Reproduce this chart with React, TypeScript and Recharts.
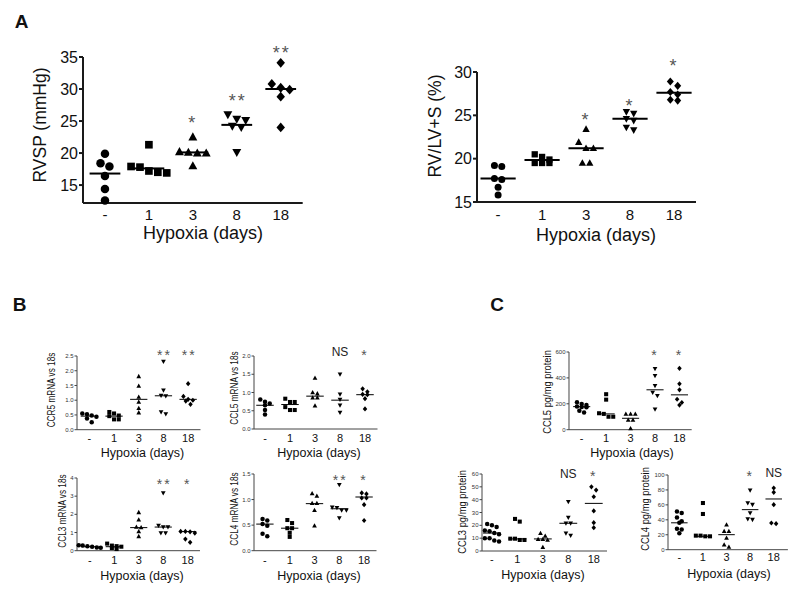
import React from "react";
import { ScatterChart, Scatter, XAxis, YAxis, ReferenceLine, ReferenceDot } from "recharts";

const groupLabels = ["-", "1", "3", "8", "18"];
const groupShapes = ["circle", "square", "triangle", "triangleDown", "diamond"];

// A: RVSP (mmHg)
const rvspValues = [
  [19.9, 18.4, 17.9, 16.4, 14.4, 12.6],
  [21.3, 17.9, 17.8, 17.2, 17.0, 16.9],
  [22.5, 20.2, 20.1, 20.0, 20.0, 18.0],
  [26.0, 25.3, 25.1, 24.2, 24.0, 20.1],
  [34.1, 30.8, 30.2, 29.9, 28.8, 24.0],
];
const rvspLines = [16.8, 17.6, 20.1, 24.4, 30.0];
const rvspStars = ["", "", "*", "**", "**"];
const rvspStarAt = [0, 0, 25.5, 28.8, 36.4];

// A: RV/LV+S (%)
const rvlvValues = [
  [19.2, 19.1, 17.7, 17.6, 16.7, 15.8],
  [20.5, 20.2, 19.9, 19.5, 19.5, 19.5],
  [23.4, 21.9, 21.2, 21.2, 19.5, 19.5],
  [25.4, 25.2, 24.6, 24.4, 23.6, 23.3],
  [28.9, 28.4, 27.7, 27.4, 26.8, 26.7],
];
const rvlvLines = [17.7, 19.85, 21.2, 24.6, 27.6];
const rvlvStars = ["", "", "*", "*", "*"];
const rvlvStarAt = [0, 0, 25.0, 26.6, 31.3];

// B: mRNA vs 18s
const ccr5Values = [
  [0.55, 0.52, 0.48, 0.44, 0.38, 0.25],
  [0.6, 0.55, 0.48, 0.46, 0.35, 0.35],
  [1.81, 1.48, 1.11, 0.94, 0.73, 0.58],
  [2.31, 1.34, 1.16, 1.14, 0.6, 0.53],
  [1.56, 1.13, 1.03, 1.0, 0.97, 0.86],
];
const ccr5Lines = [0.46, 0.46, 1.03, 1.15, 1.03];
const ccr5Stars = ["", "", "", "**", "**"];
const ccr5StarAt = [0, 0, 0, 2.66, 2.66];

const ccl5mValues = [
  [0.81, 0.75, 0.7, 0.65, 0.52, 0.4],
  [0.83, 0.74, 0.74, 0.6, 0.52, 0.52],
  [1.4, 1.0, 0.97, 0.86, 0.86, 0.64],
  [1.5, 0.95, 0.81, 0.65, 0.45],
  [1.1, 1.02, 0.95, 0.94, 0.83, 0.55],
];
const ccl5mLines = [0.65, 0.67, 0.9, 0.79, 0.94];
const ccl5mStars = ["", "", "", "NS", "*"];
const ccl5mStarAt = [0, 0, 0, 2.13, 2.13];

const ccl3mValues = [
  [0.3, 0.28, 0.25, 0.22, 0.18, 0.16],
  [0.39, 0.28, 0.25, 0.22, 0.15, 0.09],
  [2.11, 1.71, 1.3, 1.28, 1.06, 0.79],
  [3.17, 1.38, 1.3, 1.3, 0.97, 0.97],
  [1.06, 1.06, 1.04, 0.97, 0.64, 0.46],
];
const ccl3mLines = [0.22, 0.22, 1.27, 1.3, 1.05];
const ccl3mStars = ["", "", "", "**", "*"];
const ccl3mStarAt = [0, 0, 0, 3.87, 3.87];

const ccl4mValues = [
  [0.62, 0.59, 0.52, 0.49, 0.33, 0.28],
  [0.6, 0.54, 0.44, 0.44, 0.35, 0.27],
  [1.12, 1.07, 0.93, 0.93, 0.79, 0.49],
  [1.29, 0.85, 0.84, 0.79, 0.79, 0.64],
  [1.13, 1.11, 1.03, 1.03, 0.9, 0.59],
];
const ccl4mLines = [0.52, 0.44, 0.92, 0.82, 1.05];
const ccl4mStars = ["", "", "", "**", "*"];
const ccl4mStarAt = [0, 0, 0, 1.44, 1.44];

// C: pg/mg protein
const ccl5pValues = [
  [212, 199, 191, 180, 175, 173, 147, 132],
  [274, 232, 127, 122, 100, 100],
  [122, 122, 122, 75, 75, 10],
  [471, 416, 339, 287, 261, 158],
  [474, 354, 308, 235, 210, 190],
];
const ccl5pLines = [178, 122, 88, 308, 269];
const ccl5pStars = ["", "", "", "*", "*"];
const ccl5pStarAt = [0, 0, 0, 600, 600];

const ccl3pValues = [
  [21, 20, 18.7, 16, 15.3, 14, 13, 10, 10, 8.2, 7.4],
  [25, 22.9, 9.6, 9.6, 8.6, 8.6],
  [13.8, 11.7, 9.1, 9.1, 8.6, 2.9],
  [38.4, 26, 21.6, 21.6, 13.8, 12],
  [50, 47.5, 42.3, 31.2, 22.1, 18.2],
];
const ccl3pLines = [14, 9.4, 9.4, 21.6, 37.1];
const ccl3pStars = ["", "", "", "NS", "*"];
const ccl3pStarAt = [0, 0, 0, 60.5, 61.3];

const ccl4pValues = [
  [51, 49, 43, 38, 36, 28, 27, 22],
  [62.5, 47.8, 18.8, 18.8, 17.9, 17.9],
  [33.5, 24.6, 24.6, 15.6, 6.7, 3.6],
  [79.5, 62.5, 60.3, 49.1, 41.1, 40.2],
  [82.6, 76.8, 60.3, 35.7, 34.8],
];
const ccl4pLines = [36, 17.9, 20.1, 53.6, 67.9];
const ccl4pStars = ["", "", "", "*", "NS"];
const ccl4pStarAt = [0, 0, 0, 102.7, 102.7];

const fixed1 = (v: number) => v.toFixed(1);
const plain = (v: number) => String(v);

type Spec = {
  values: number[][];
  lines: number[];
  stars: string[];
  starAt: number[];
  yDomain: [number, number];
  yTicks: number[];
  yFmt: (v: number) => string;
  xDomain: [number, number];
  x0: number;
  x1: number;
  yTop: number;
  yBottom: number;
  big: boolean;
  marker: number;
  lineHalf: number;
  xTickGap: number;
  yTitle: string;
  yTitlePos: [number, number];
  xTitlePos: [number, number];
};

const panels: Spec[] = [
  {
    values: rvspValues, lines: rvspLines, stars: rvspStars, starAt: rvspStarAt,
    yDomain: [12.2, 35], yTicks: [15, 20, 25, 30, 35], yFmt: plain, xDomain: [-0.5, 4.5],
    x0: 83.3, x1: 303, yTop: 57.3, yBottom: 203.3, big: true, marker: 8.5, lineHalf: 0.35, xTickGap: 6,
    yTitle: "RVSP (mmHg)", yTitlePos: [41, 125], xTitlePos: [203, 233],
  },
  {
    values: rvlvValues, lines: rvlvLines, stars: rvlvStars, starAt: rvlvStarAt,
    yDomain: [15, 30], yTicks: [15, 20, 25, 30], yFmt: plain, xDomain: [-0.48, 4.5],
    x0: 477, x1: 696, yTop: 72.3, yBottom: 202.3, big: true, marker: 7, lineHalf: 0.4, xTickGap: 7,
    yTitle: "RV/LV+S  (%)", yTitlePos: [436, 126], xTitlePos: [596, 235],
  },
  {
    values: ccr5Values, lines: ccr5Lines, stars: ccr5Stars, starAt: ccr5StarAt,
    yDomain: [0, 2.5], yTicks: [0, 0.5, 1, 1.5, 2, 2.5], yFmt: fixed1, xDomain: [-0.5, 4.5],
    x0: 77.3, x1: 200.8, yTop: 356, yBottom: 429.7, big: false, marker: 4.5, lineHalf: 0.35, xTickGap: 5,
    yTitle: "CCR5 mRNA vs 18s", yTitlePos: [51, 390], xTitlePos: [142.5, 452.5],
  },
  {
    values: ccl5mValues, lines: ccl5mLines, stars: ccl5mStars, starAt: ccl5mStarAt,
    yDomain: [0, 2], yTicks: [0, 0.5, 1, 1.5, 2], yFmt: fixed1, xDomain: [-0.44, 4.5],
    x0: 254, x1: 377.5, yTop: 356, yBottom: 429, big: false, marker: 4.5, lineHalf: 0.35, xTickGap: 5,
    yTitle: "CCL5 mRNA vs 18s", yTitlePos: [234, 388], xTitlePos: [319, 452.5],
  },
  {
    values: ccl3mValues, lines: ccl3mLines, stars: ccl3mStars, starAt: ccl3mStarAt,
    yDomain: [0, 4], yTicks: [0, 1, 2, 3, 4], yFmt: plain, xDomain: [-0.52, 4.5],
    x0: 77.3, x1: 200.3, yTop: 478.3, yBottom: 551, big: false, marker: 4.5, lineHalf: 0.35, xTickGap: 6,
    yTitle: "CCL3 mRNA vs 18s", yTitlePos: [62, 511], xTitlePos: [142, 576],
  },
  {
    values: ccl4mValues, lines: ccl4mLines, stars: ccl4mStars, starAt: ccl4mStarAt,
    yDomain: [0, 1.5], yTicks: [0, 0.5, 1, 1.5], yFmt: fixed1, xDomain: [-0.44, 4.5],
    x0: 254, x1: 376.5, yTop: 474.3, yBottom: 551, big: false, marker: 4.5, lineHalf: 0.35, xTickGap: 6,
    yTitle: "CCL4 mRNA vs 18s", yTitlePos: [234, 509], xTitlePos: [319, 576],
  },
  {
    values: ccl5pValues, lines: ccl5pLines, stars: ccl5pStars, starAt: ccl5pStarAt,
    yDomain: [0, 600], yTicks: [0, 200, 400, 600], yFmt: plain, xDomain: [-0.52, 4.5],
    x0: 569, x1: 691.7, yTop: 352.3, yBottom: 430, big: false, marker: 4.5, lineHalf: 0.35, xTickGap: 5,
    yTitle: "CCL5 pg/mg protein", yTitlePos: [547, 392], xTitlePos: [632, 453],
  },
  {
    values: ccl3pValues, lines: ccl3pLines, stars: ccl3pStars, starAt: ccl3pStarAt,
    yDomain: [0, 60], yTicks: [0, 10, 20, 30, 40, 50, 60], yFmt: plain, xDomain: [-0.39, 4.52],
    x0: 481.7, x1: 606.7, yTop: 474, yBottom: 551, big: false, marker: 4.5, lineHalf: 0.35, xTickGap: 4,
    yTitle: "CCL3 pg/mg protein", yTitlePos: [462, 512], xTitlePos: [543, 574.5],
  },
  {
    values: ccl4pValues, lines: ccl4pLines, stars: ccl4pStars, starAt: ccl4pStarAt,
    yDomain: [0, 100], yTicks: [0, 20, 40, 60, 80, 100], yFmt: plain, xDomain: [-0.48, 4.6],
    x0: 667.7, x1: 787.6, yTop: 475.3, yBottom: 550, big: false, marker: 4.5, lineHalf: 0.35, xTickGap: 4,
    yTitle: "CCL4 pg/mg protein", yTitlePos: [645, 509], xTitlePos: [729, 574],
  },
];

// spread points of similar value side by side, like a column scatter plot
function swarm(values: number[][], pxX: number, pxY: number, size: number) {
  const pts: { x: number; y: number; g: number }[] = [];
  values.forEach((vals, g) => {
    const sorted = [...vals].sort((a, b) => b - a);
    const rows: number[][] = [];
    sorted.forEach((v) => {
      const row = rows[rows.length - 1];
      if (row && (row[0] - v) * pxY < size * 0.9) row.push(v);
      else rows.push([v]);
    });
    rows.forEach((row) =>
      row.forEach((v, j) => {
        const off = ((j - (row.length - 1) / 2) * size * 1.05) / pxX;
        pts.push({ x: g + Math.max(-0.45, Math.min(0.45, off)), y: v, g });
      })
    );
  });
  return pts;
}

function Marker({ cx, cy, kind, s }: { cx: number; cy: number; kind: string; s: number }) {
  const h = s / 2;
  if (kind === "circle") return <circle cx={cx} cy={cy} r={h} fill="#000" />;
  if (kind === "square")
    return <rect x={cx - h * 0.9} y={cy - h * 0.9} width={s * 0.9} height={s * 0.9} fill="#000" />;
  if (kind === "triangle")
    return (
      <polygon
        points={`${cx},${cy - h * 1.1} ${cx - h * 1.05},${cy + h * 0.8} ${cx + h * 1.05},${cy + h * 0.8}`}
        fill="#000"
      />
    );
  if (kind === "triangleDown")
    return (
      <polygon
        points={`${cx},${cy + h * 1.1} ${cx - h * 1.05},${cy - h * 0.8} ${cx + h * 1.05},${cy - h * 0.8}`}
        fill="#000"
      />
    );
  return (
    <polygon
      points={`${cx},${cy - h * 1.15} ${cx + h},${cy} ${cx},${cy + h * 1.15} ${cx - h},${cy}`}
      fill="#000"
    />
  );
}

function Title({ text, x, y, size, rotate, squeeze, bold }: any) {
  let t = "translate(-50%, -50%)";
  if (rotate) t += " rotate(-90deg)";
  if (squeeze) t += ` scaleX(${squeeze})`;
  return (
    <div
      style={{
        position: "absolute",
        left: x,
        top: y,
        transform: t,
        fontSize: size,
        lineHeight: 1,
        whiteSpace: "nowrap",
        color: "#111",
        fontWeight: bold ? "bold" : "normal",
      }}
    >
      {text}
    </div>
  );
}

function Panel({ spec }: { spec: Spec }) {
  const big = spec.big;
  const axisW = big ? 45 : 28;
  const mTop = big ? 35 : 22;
  const mRight = big ? 20 : 12;
  const xAxisH = big ? 32 : 20;
  const axisColor = big ? "#1a1a1a" : "#444";
  const axisWidth = big ? 2 : 1;
  const starFont = big ? 18 : 14;

  const width = axisW + (spec.x1 - spec.x0) + mRight;
  const height = mTop + (spec.yBottom - spec.yTop) + xAxisH;
  const pxX = (spec.x1 - spec.x0) / (spec.xDomain[1] - spec.xDomain[0]);
  const pxY = (spec.yBottom - spec.yTop) / (spec.yDomain[1] - spec.yDomain[0]);
  const pts = swarm(spec.values, pxX, pxY, spec.marker);

  return (
    <div style={{ position: "absolute", left: spec.x0 - axisW, top: spec.yTop - mTop }}>
      <ScatterChart width={width} height={height} margin={{ top: mTop, right: mRight, bottom: 0, left: 0 }}>
        <XAxis
          type="number"
          dataKey="x"
          domain={spec.xDomain}
          ticks={[0, 1, 2, 3, 4]}
          interval={0}
          tickFormatter={(v: number) => groupLabels[v] ?? ""}
          height={xAxisH}
          axisLine={{ stroke: axisColor, strokeWidth: axisWidth }}
          tickLine={false}
          tickSize={big ? 4 : 2}
          tickMargin={spec.xTickGap - (big ? 4 : 2)}
          tick={{ fontSize: big ? 15 : 11, fill: "#111" }}
        />
        <YAxis
          type="number"
          dataKey="y"
          domain={spec.yDomain}
          ticks={spec.yTicks}
          interval={0}
          tickFormatter={spec.yFmt}
          width={axisW}
          axisLine={{ stroke: axisColor, strokeWidth: axisWidth }}
          tickLine={{ stroke: axisColor, strokeWidth: axisWidth }}
          tickSize={big ? 4 : 2.5}
          tickMargin={1}
          tick={{ fontSize: big ? 16 : 6, fill: big ? "#111" : "#333" }}
        />
        {spec.values.map((_, g) => (
          <Scatter
            key={`s${g}`}
            data={pts.filter((p) => p.g === g)}
            isAnimationActive={false}
            shape={(p: any) => <Marker cx={p.cx} cy={p.cy} kind={groupShapes[g]} s={spec.marker} />}
          />
        ))}
        {spec.lines.map((m, g) => (
          <ReferenceLine
            key={`l${g}`}
            segment={[
              { x: g - spec.lineHalf, y: m },
              { x: g + spec.lineHalf, y: m },
            ]}
            stroke="#000"
            strokeWidth={big ? 2 : 1}
            ifOverflow="visible"
          />
        ))}
        {spec.stars.map((s, g) =>
          s ? (
            <ReferenceDot
              key={`d${g}`}
              x={g}
              y={spec.starAt[g]}
              r={1}
              ifOverflow="visible"
              shape={(p: any) => {
                const ns = s === "NS";
                const fs = ns ? (big ? 16 : 12) : starFont;
                return (
                  <text
                    x={p.cx + (ns ? 0 : s.length > 1 ? 1 : 0)}
                    y={p.cy + fs * (ns ? 0.36 : 0.6)}
                    textAnchor="middle"
                    fontSize={fs}
                    letterSpacing={ns ? 0 : 2}
                    fill={ns ? "#222" : "#555"}
                  >
                    {s}
                  </text>
                );
              }}
            />
          ) : null
        )}
      </ScatterChart>
    </div>
  );
}

export default function App() {
  return (
    <div
      style={{
        position: "absolute",
        left: 0,
        top: 0,
        width: 800,
        height: 595,
        background: "#fff",
        overflow: "hidden",
        fontFamily: "'Liberation Sans', Arial, Helvetica, sans-serif",
      }}
    >
      <Title text="A" x={21.5} y={20.5} size={19} bold />
      <Title text="B" x={19.5} y={303.5} size={19} bold />
      <Title text="C" x={497} y={304} size={19} bold />
      {panels.map((spec, i) => (
        <React.Fragment key={i}>
          <Panel spec={spec} />
          <Title
            text="Hypoxia (days)"
            x={spec.xTitlePos[0]}
            y={spec.xTitlePos[1]}
            size={spec.big ? 18 : 12.5}
          />
          <Title
            text={spec.yTitle}
            x={spec.yTitlePos[0]}
            y={spec.yTitlePos[1]}
            size={spec.big ? 17.5 : 11}
            rotate
            squeeze={spec.big ? undefined : i >= 6 ? 0.85 : 0.75}
          />
        </React.Fragment>
      ))}
    </div>
  );
}
